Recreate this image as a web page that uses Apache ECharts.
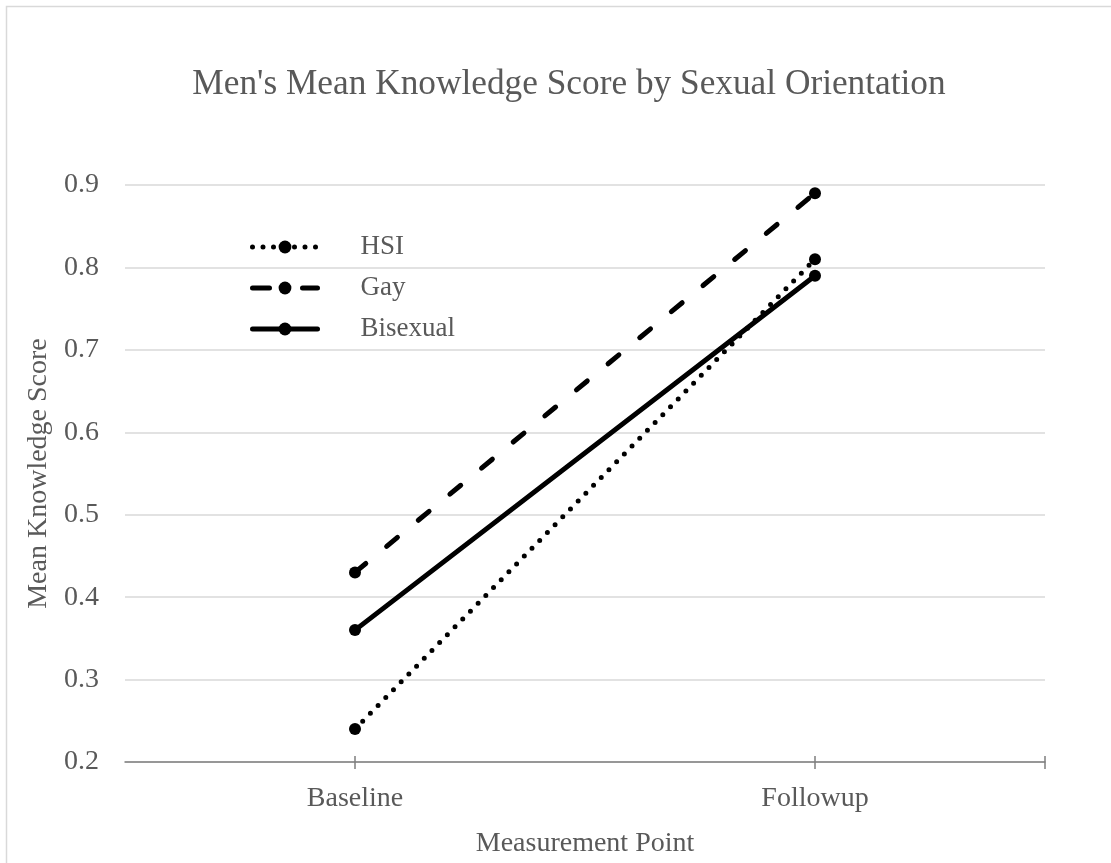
<!DOCTYPE html>
<html>
<head>
<meta charset="utf-8">
<script src="https://cdn.jsdelivr.net/npm/echarts@6/dist/echarts.min.js"></script>
<style>
  html, body { margin: 0; padding: 0; background: #fff; }
  #chart { width: 1111px; height: 863px; }
</style>
</head>
<body>
<div id="chart"></div>
<script>
// Measurement points (x categories)
const categories = ['Baseline', 'Followup'];
// Mean knowledge score per group
const hsiScores = [0.24, 0.81];
const gayScores = [0.43, 0.89];
const bisexualScores = [0.36, 0.79];
// Y axis range
const yMin = 0.2;
const yMax = 0.9;
const yStep = 0.1;
// Helper slots for the tick marks along the category axis (category centres and right end)
const tickSlots = ['', '', '', '', ''];

const FONT = '"Liberation Serif", "Times New Roman", serif';
const TEXT = '#595959';

const DOTTED = [0, 11];
const DASHED = [14, 27];

const chart = echarts.init(document.getElementById('chart'), null, { renderer: 'canvas' });

function lineSeries(name, data, dash) {
  return {
    name: name,
    type: 'line',
    data: data,
    symbol: 'circle',
    symbolSize: 12,
    itemStyle: { color: '#000' },
    lineStyle: { color: '#000', width: 5, type: dash, cap: 'round' },
    emphasis: { disabled: true },
    animation: false
  };
}

chart.setOption({
  backgroundColor: '#fff',
  animation: false,
  title: {
    text: "Men's Mean Knowledge Score by Sexual Orientation",
    left: 564,
    textAlign: 'center',
    top: 62,
    textStyle: { fontFamily: FONT, fontSize: 35.3, fontWeight: 'normal', color: TEXT }
  },
  graphic: [{
    type: 'rect',
    shape: { x: 6.5, y: 6.5, width: 1200, height: 1000 },
    style: { fill: null, stroke: '#d9d9d9', lineWidth: 1.5 },
    silent: true
  }],
  legend: {
    orient: 'vertical',
    left: 245,
    top: 228,
    itemWidth: 65,
    itemHeight: 16,
    itemGap: 13,
    selectedMode: false,
    lineStyle: { width: 5, cap: 'round', color: '#000' },
    data: [
      { name: 'HSI', lineStyle: { type: [0, 10.5] } },
      { name: 'Gay', lineStyle: { type: [17, 33] } },
      { name: 'Bisexual', lineStyle: { type: 'solid' } }
    ],
    textStyle: { fontFamily: FONT, fontSize: 27, color: TEXT, lineHeight: 28, padding: [0, 0, 0, 38] }
  },
  grid: { left: 125, right: 66, top: 185, bottom: 100, containLabel: false },
  xAxis: [{
    type: 'category',
    data: categories,
    boundaryGap: true,
    axisLine: { lineStyle: { color: '#7f7f7f', width: 1.5 } },
    axisTick: { show: false },
    axisLabel: { fontFamily: FONT, fontSize: 28, color: TEXT, margin: 23 },
    name: 'Measurement Point',
    nameLocation: 'middle',
    nameGap: 68,
    nameTextStyle: { fontFamily: FONT, fontSize: 28, color: TEXT }
  }, {
    type: 'category',
    data: tickSlots,
    boundaryGap: false,
    position: 'bottom',
    offset: -6,
    axisLine: { show: false },
    axisLabel: { show: false },
    splitLine: { show: false },
    axisTick: {
      show: true,
      length: 13,
      lineStyle: { color: '#7f7f7f', width: 1.5 },
      interval: function (i) { return i === 1 || i === 3 || i === 4; }
    }
  }],
  yAxis: {
    type: 'value',
    min: yMin,
    max: yMax,
    interval: yStep,
    axisLine: { show: false },
    axisTick: { show: false },
    splitLine: { lineStyle: { color: '#d9d9d9', width: 1.5 } },
    axisLabel: {
      fontFamily: FONT, fontSize: 28, color: TEXT, margin: 26,
      formatter: function (v) { return v.toFixed(1); }
    },
    name: 'Mean Knowledge Score',
    nameLocation: 'middle',
    nameGap: 70,
    nameRotate: 90,
    nameTextStyle: { fontFamily: FONT, fontSize: 28, color: TEXT }
  },
  series: [
    lineSeries('HSI', hsiScores, DOTTED),
    lineSeries('Gay', gayScores, DASHED),
    lineSeries('Bisexual', bisexualScores, 'solid')
  ]
});
</script>
</body>
</html>
